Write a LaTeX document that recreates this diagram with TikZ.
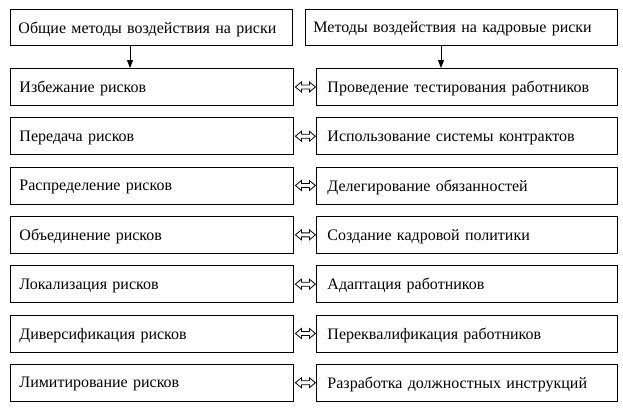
\documentclass[tikz,border=0pt]{standalone}
\usepackage{fontspec}
\setmainfont{Liberation Serif}
\usetikzlibrary{arrows.meta}
\begin{document}
\begin{tikzpicture}[x=1pt,y=-1pt,
 box/.style={draw,line width=0.9pt,anchor=north west,inner sep=0pt,minimum height=37pt,text depth=0pt,font=\fontsize{16}{18}\selectfont,align=left},
 lbox/.style={box,minimum width=283pt,text width=271pt},
 rbox/.style={box,minimum width=301pt,text width=289pt},
 dbl/.style={line width=0.8pt,line join=miter},
 down/.style={-{Triangle[length=8pt,width=6pt]},line width=0.8pt}]
\path[use as bounding box] (0,0) rectangle (623,410);
\node[box,minimum width=282pt,text width=270pt,minimum height=36pt] (tl) at (10,9) {\hspace{2pt}Общие методы воздействия на риски};
\node[box,minimum width=312pt,text width=300pt,minimum height=36pt] (tr) at (305,9) {\hspace{2pt}Методы воздействия на кадровые риски};
\foreach \i/\a/\b in {0/Избежание рисков/Проведение тестирования работников,
 1/Передача рисков/Использование системы контрактов,
 2/Распределение рисков/Делегирование обязанностей,
 3/Объединение рисков/Создание кадровой политики,
 4/Локализация рисков/Адаптация работников,
 5/Диверсификация рисков/Переквалификация работников,
 6/Лимитирование рисков/Разработка должностных инструкций}{
 \node[lbox] (l\i) at (10,{68+49.3*\i}) {\hspace{3pt}\a};
 \node[rbox] (r\i) at (316,{68+49.3*\i}) {\hspace{5pt}\b};
 \draw[dbl,shift={(l\i.east)}] (1.5,0) -- (7.5,-5) -- (7.5,-2) -- (15.5,-2) -- (15.5,-5) -- (21.5,0) -- (15.5,5) -- (15.5,2) -- (7.5,2) -- (7.5,5) -- cycle;
}
\draw[down] (tl.south -| 130,0) -- (l0.north -| 130,0);
\draw[down] (tr.south -| 441,0) -- (r0.north -| 441,0);
\end{tikzpicture}
\end{document}
